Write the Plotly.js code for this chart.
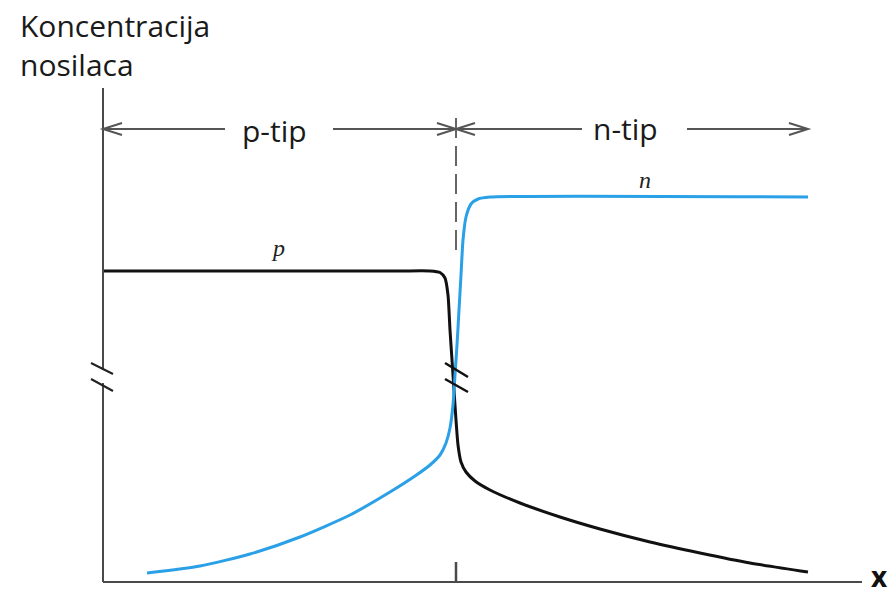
<!DOCTYPE html>
<html>
<head>
<meta charset="utf-8">
<script src="https://cdn.plot.ly/plotly-3.0.1.min.js"></script>
<style>html,body{margin:0;padding:0;background:#fff;}#chart{width:894px;height:597px;}</style>
</head>
<body>
<div id="chart"></div>
<script>
// Position along x (junction at 0) and carrier concentration (arbitrary units)
var pX = [-353,-256,-156,-56,-26,-16,-11,-8,-6,-4,-2,0,2,5,10,19,34,64,104,144,194,244,294,352];
var pY = [311,311,311,311,311,309.5,304,287,252,222,192,162,137,120,110,101,92,79,65,53,40,29,19,10];
var nX = [-309,-256,-206,-156,-106,-66,-41,-26,-16,-10,-6,-3,-1,1,3,5,7,10,15,22,34,352];
var nY = [9,16,28,45,67,90,106,117,127,139,154,177,207,237,272,307,342,365,378,383,385,385];

var regionLabels = ["p-tip", "n-tip"];
var curveLabels = ["p", "n"];
var yTitle = "Koncentracija<br>nosilaca";
var xTitle = "x";

// geometry helpers (decoration only)
var X0 = -353, XEND = 406, YTOP = 494, ARROWY = 453, XR = 352;
var axisCol = "#4a4a4a", arrCol = "#555555";

function seg(x0,y0,x1,y1,col,w,dash){
  return {type:"line",xref:"x",yref:"y",x0:x0,y0:y0,x1:x1,y1:y1,layer:"above",
          line:{color:col,width:w,dash:dash||"solid"}};
}
function chevron(tipx, y, dir){
  var L = 19, H = 6;
  return {type:"path",xref:"x",yref:"y",layer:"above",
    path:"M"+(tipx-dir*L)+","+(y+H)+" L"+tipx+","+y+" L"+(tipx-dir*L)+","+(y-H),
    line:{color:arrCol,width:2}};
}

var shapes = [
  // axes
  seg(X0,0,X0,YTOP,axisCol,2),
  seg(X0,0,XEND,0,axisCol,2),
  // y axis break cover & marks
  seg(X0,199,X0,212,"#ffffff",5),
  seg(-365,219,-343,208,"#222",2),
  seg(-365,203,-343,191,"#222",2),
  // junction break marks
  seg(-11,219,12,205,"#111",2.5),
  seg(-11,203,12,190,"#111",2.5),
  // tick at junction
  seg(0,0,0,20,axisCol,2.5),
  // dashed junction line
  seg(0,464,0,329,"#666",2,"20px,8px"),
  // region arrows
  seg(X0,ARROWY,-231,ARROWY,arrCol,2),
  seg(-123,ARROWY,0,ARROWY,arrCol,2),
  seg(0,ARROWY,126,ARROWY,arrCol,2),
  seg(231,ARROWY,XR,ARROWY,arrCol,2),
  chevron(X0,ARROWY,-1),
  chevron(0,ARROWY,1),
  chevron(0,ARROWY,-1),
  chevron(XR,ARROWY,1)
];

var traces = [
  {x:pX, y:pY, mode:"lines", line:{color:"#111111", width:3, shape:"spline", smoothing:0.6}, hoverinfo:"skip"},
  {x:nX, y:nY, mode:"lines", line:{color:"#2aa0e6", width:3, shape:"spline", smoothing:0.6}, hoverinfo:"skip"}
];

var txtFont = {family:"Open Sans, sans-serif", size:30, color:"#1a1a1a"};
var annotations = [
  {x:-0.0771, y:1.012, xref:"paper", yref:"paper", text:yTitle, showarrow:false, xanchor:"left", yanchor:"top", align:"left", font:txtFont},
  {x:-181.5, y:452, xref:"x", yref:"y", text:regionLabels[0], showarrow:false, xanchor:"center", yanchor:"middle", font:txtFont},
  {x:169.5, y:454, xref:"x", yref:"y", text:regionLabels[1], showarrow:false, xanchor:"center", yanchor:"middle", font:txtFont},
  {x:-178, y:334, xref:"x", yref:"y", text:"<i>"+curveLabels[0]+"</i>", showarrow:false, font:{family:"Liberation Serif, serif", size:24, color:"#222"}},
  {x:189, y:402, xref:"x", yref:"y", text:"<i>"+curveLabels[1]+"</i>", showarrow:false, font:{family:"Liberation Serif, serif", size:24, color:"#222"}},
  {x:0.995, y:0, xref:"paper", yref:"paper", text:"<b>"+xTitle+"</b>", showarrow:false, xanchor:"center", yanchor:"bottom", font:{family:"Open Sans, sans-serif", size:28, color:"#111"}}
];

var layout = {
  width:894, height:597,
  margin:{l:80, r:10, t:10, b:0},
  paper_bgcolor:"#ffffff", plot_bgcolor:"#ffffff",
  showlegend:false,
  xaxis:{range:[-376,428], visible:false, fixedrange:true},
  yaxis:{range:[-15,572], visible:false, fixedrange:true},
  shapes:shapes,
  annotations:annotations
};

Plotly.newPlot("chart", traces, layout, {displayModeBar:false, staticPlot:true});
</script>
</body>
</html>
